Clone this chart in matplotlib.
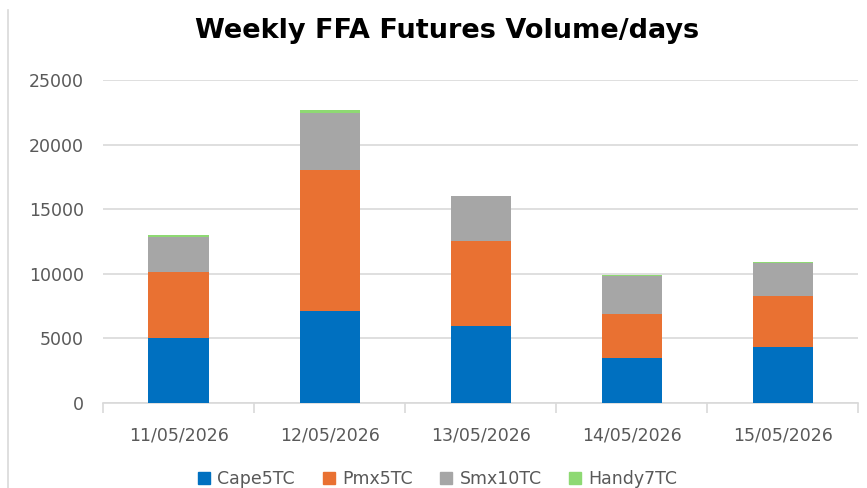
import numpy as np
import matplotlib
matplotlib.use('Agg')
from matplotlib import pyplot as plt
from matplotlib.lines import Line2D

dates = ['11/05/2026', '12/05/2026', '13/05/2026', '14/05/2026', '15/05/2026']
cape = [5000, 7100, 6000, 3490, 4320]
pmx = [5180, 10950, 6540, 3430, 3970]
smx = [2670, 4370, 3510, 2920, 2560]
handy = [150, 260, 0, 80, 80]

series = ['Cape5TC', 'Pmx5TC', 'Smx10TC', 'Handy7TC']
colors = ['#0070C0', '#E97132', '#A6A6A6', '#8ED973']

plt.rcParams['font.family'] = ['DejaVu Sans']
fig = plt.figure(figsize=(8.67, 4.88), dpi=100)
ax = fig.add_axes([0.119, 0.174, 0.871, 0.662])

x = np.arange(len(dates))
bottom = np.zeros(len(dates))
for vals, name, c in zip([cape, pmx, smx, handy], series, colors):
    ax.bar(x, vals, 0.4, bottom=bottom, color=c, label=name, zorder=3)
    bottom += np.array(vals)

ax.set_xlim(-0.5, len(dates) - 0.5)
ax.set_ylim(0, 25000)
ax.set_yticks(range(0, 25001, 5000))
ax.grid(axis='y', color='#D9D9D9', lw=1.2, zorder=0)
for s in ['top', 'right', 'left']:
    ax.spines[s].set_visible(False)
ax.spines['bottom'].set_color('#D9D9D9')
ax.spines['bottom'].set_linewidth(1.2)

ax.set_xticks(x)
ax.set_xticklabels(dates)
ax.tick_params(axis='x', which='major', length=0, pad=17, labelsize=12.5, labelcolor='#595959')
ax.set_xticks(np.arange(-0.5, len(dates), 1), minor=True)
ax.tick_params(axis='x', which='minor', length=7, color='#D9D9D9', width=1.2)
ax.tick_params(axis='y', length=0, pad=14, labelsize=12.5, labelcolor='#595959')

fig.text(0.516, 0.937, 'Weekly FFA Futures Volume/days', ha='center', va='center',
         fontsize=19.5, fontweight='bold')

handles = [Line2D([], [], marker='s', ls='', markersize=9, color=c) for c in colors]
fig.legend(handles, series, loc='center', bbox_to_anchor=(0.505, 0.018), ncol=4,
           frameon=False, fontsize=12.5, labelcolor='#595959', handlelength=0.7,
           handletextpad=0.4, columnspacing=1.6)

fig.add_artist(Line2D([0.009, 0.009], [0, 0.98], color='#D9D9D9', lw=1.2))

plt.savefig('out.png', dpi=100)
